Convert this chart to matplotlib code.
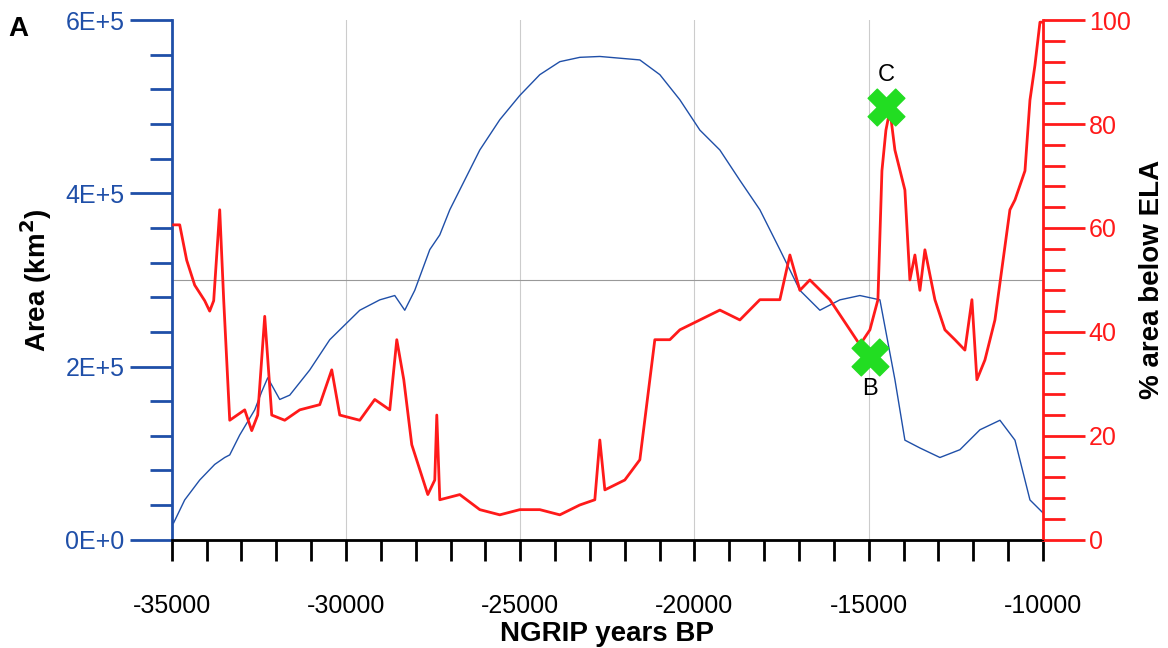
import matplotlib
matplotlib.use("Agg")
import matplotlib.pyplot as plt
from matplotlib.ticker import MultipleLocator, FuncFormatter

plt.rcParams['font.family'] = ['Liberation Sans', 'DejaVu Sans']
plt.rcParams['axes.unicode_minus'] = False

# blue: glacier area (km2)
area_years = [-34943, -34627, -34196, -33766, -33479, -33335, -33048, -32618, -32417, -32245,
              -31900, -31613, -31040, -30465, -30035, -29604, -29030, -28600, -28313, -28026,
              -27595, -27308, -27021, -26734, -26160, -25586, -25012, -24438, -23864, -23290,
              -22716, -22142, -21568, -20994, -20420, -19846, -19272, -18698, -18124, -17550,
              -16976, -16402, -15828, -15254, -14680, -14250, -13963, -13532, -12958, -12384,
              -11810, -11236, -10805, -10375, -10000]
area_vals = [19.6e3, 46e3, 69e3, 87e3, 95e3, 98e3, 121e3, 150e3, 171e3, 187e3,
             162e3, 167e3, 196e3, 231e3, 248e3, 265e3, 277e3, 282e3, 265e3, 288e3,
             335e3, 352e3, 381e3, 404e3, 450e3, 485e3, 513e3, 537e3, 552e3, 557e3,
             558e3, 556e3, 554e3, 537e3, 508e3, 473e3, 450e3, 415e3, 381e3, 335e3,
             288e3, 265e3, 277e3, 282e3, 277e3, 185e3, 115e3, 106e3, 95e3, 104e3,
             127e3, 138e3, 115e3, 46e3, 31e3]

# red: % area below ELA
ela_years = [-34943, -34770, -34570, -34340, -34053, -33910, -33795, -33622, -33507, -33335,
             -32905, -32704, -32532, -32331, -32130, -31757, -31326, -30752, -30408, -30178,
             -29604, -29174, -28743, -28542, -28341, -28112, -27882, -27652, -27452, -27394,
             -27308, -26734, -26160, -25586, -25012, -24438, -23864, -23290, -22860, -22716,
             -22572, -22000, -21568, -21138, -20707, -20420, -19846, -19272, -18698, -18124,
             -17550, -17263, -16976, -16690, -16116, -15540, -15254, -14967, -14737, -14622,
             -14508, -14393, -14250, -13963, -13820, -13676, -13532, -13389, -13102, -12815,
             -12528, -12241, -12040, -11897, -11667, -11380, -10950, -10805, -10518, -10375,
             -10232, -10088, -10000]
ela_vals = [60.6, 60.6, 53.8, 49, 46, 44, 46, 63.5, 46, 23,
            25, 21, 24, 43, 24, 23, 25, 26, 32.7, 24,
            23, 27, 25, 38.5, 30.8, 18.3, 13.5, 8.7, 11.5, 24,
            7.7, 8.7, 5.8, 4.8, 5.8, 5.8, 4.8, 6.7, 7.7, 19.2,
            9.6, 11.5, 15.4, 38.5, 38.5, 40.4, 42.3, 44.2, 42.3, 46.2,
            46.2, 54.8, 48, 50, 46.2, 40.4, 37.5, 40.4, 46.2, 71,
            78.8, 82.7, 75, 67.3, 50, 54.8, 48, 55.8, 46.2, 40.4,
            38.5, 36.5, 46.2, 30.8, 34.6, 42.3, 63.5, 65.4, 71, 84.6,
            91.3, 99.6, 99.6]

mark_labels = ["B", "C"]
mark_years = [-14967, -14508]
mark_vals = [35.2, 83.3]

blue = "#1f4fa8"
red = "#ff1a1a"

fig = plt.figure(figsize=(11.68, 6.48), dpi=100)
ax = fig.add_axes([0.147, 0.167, 0.746, 0.802])
ax2 = ax.twinx()

for x in [-30000, -25000, -20000, -15000]:
    ax.axvline(x, color="#cccccc", lw=0.8, zorder=0)
ax.axhline(3e5, color="#999999", lw=0.8, zorder=0)

ax.plot(area_years, area_vals, color=blue, lw=1.0)
ax2.plot(ela_years, ela_vals, color=red, lw=2.0)
ax2.scatter(mark_years, mark_vals, marker="X", s=700, color="#22dd22", zorder=5,
            edgecolors="#22dd22")
ax2.text(mark_years[0], mark_vals[0] - 4, mark_labels[0], fontsize=17, ha="center", va="top")
ax2.text(mark_years[1], mark_vals[1] + 4, mark_labels[1], fontsize=17, ha="center", va="bottom")

ax.set_xlim(-35000, -10000)
ax.set_ylim(0, 6e5)
ax2.set_ylim(0, 100)

for a in (ax, ax2):
    a.spines["top"].set_visible(False)
ax.spines["left"].set_color(blue)
ax.spines["left"].set_linewidth(2)
ax2.spines["right"].set_color(red)
ax2.spines["right"].set_linewidth(2)
ax2.spines["left"].set_visible(False)
ax.spines["right"].set_visible(False)
ax.spines["bottom"].set_linewidth(2)

ax.xaxis.set_major_locator(MultipleLocator(5000))
ax.xaxis.set_minor_locator(MultipleLocator(1000))
ax.tick_params(axis="x", which="both", direction="out", length=15, width=2, labelsize=18, pad=24)

ax.yaxis.set_major_locator(MultipleLocator(2e5))
ax.yaxis.set_minor_locator(MultipleLocator(0.4e5))
ax.yaxis.set_major_formatter(FuncFormatter(lambda v, p: "%dE+%d" % (v / 1e5, 5) if v else "0E+0"))
ax.tick_params(axis="y", which="major", direction="out", length=30, width=2, color=blue,
               labelcolor=blue, labelsize=18, pad=4)
ax.tick_params(axis="y", which="minor", direction="out", length=16, width=2, color=blue)
ax2.yaxis.set_major_locator(MultipleLocator(20))
ax2.yaxis.set_minor_locator(MultipleLocator(4))
ax2.tick_params(axis="y", which="major", direction="out", length=30, width=2, color=red,
                labelcolor=red, labelsize=18, pad=3)
ax2.tick_params(axis="y", which="minor", direction="out", length=16, width=2, color=red)

ax.set_xlabel("NGRIP years BP", fontsize=20, fontweight="bold", labelpad=2)
ax.set_ylabel("Area (km$^\\mathbf{2}$)", fontsize=20, fontweight="bold", labelpad=8)
ax2.set_ylabel("% area below ELA", fontsize=20, fontweight="bold", labelpad=6)
fig.text(0.007, 0.945, "A", fontsize=20, fontweight="bold")

fig.savefig("out.png", dpi=100)
